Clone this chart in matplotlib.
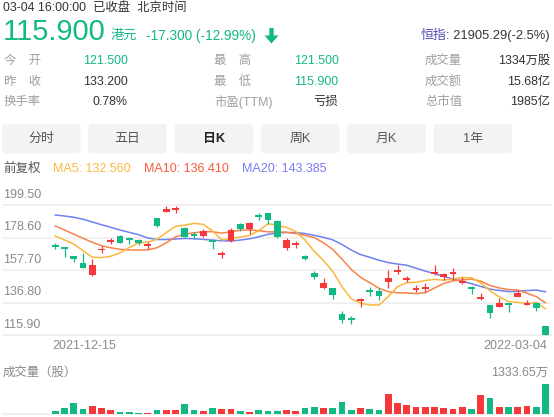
import matplotlib
matplotlib.use("Agg")
import matplotlib.pyplot as plt
from matplotlib.patches import FancyBboxPatch, Rectangle, Polygon
import numpy as np
import pandas as pd

plt.rcParams['font.family'] = ['Liberation Sans', 'Noto Sans CJK SC']

W, H = 554, 417
GREEN = '#13b887'
RED = '#f6383a'
DARK = '#333333'
GREY = '#9f9f9f'
C_MA5, C_MA10, C_MA20 = '#f9b83c', '#f8834a', '#6f82ee'
T_MA5, T_MA10, T_MA20 = '#fbb93c', '#fa5a3c', '#7b7bf5'

# ---- quote header ----
time_text = "03-04 16:00:00  已收盘  北京时间"
last_price = "115.900"
currency = "港元"
change_text = "-17.300 (-12.99%)"
index_name = "恒指"
index_text = ": 21905.29(-2.5%)"

quote_labels = [["今　开", "昨　收", "换手率"],
                ["最　高", "最　低", "市盈(TTM)"],
                ["成交量", "成交额", "总市值"]]
quote_values = [["121.500", "133.200", "0.78%"],
                ["121.500", "115.900", "亏损"],
                ["1334万股", "15.68亿", "1985亿"]]
quote_colors = [[GREEN, DARK, DARK],
                [GREEN, GREEN, DARK],
                [DARK, DARK, DARK]]

tabs = ["分时", "五日", "日K", "周K", "月K", "1年"]
active_tab = 2

ma_legend = ["MA5: 132.560", "MA10: 136.410", "MA20: 143.385"]

# ---- daily candles (HKD) ----
opens = [173.6, 172.3, 166.7, 162.4, 154.5, 170.6, 176.0, 179.6, 178.1, 177.0,
         173.3, 190.9, 195.2, 196.4, 184.5, 180.4, 179.8, 177.0, 167.5, 176.4,
         187.3, 183.9, 193.1, 194.2, 189.2, 171.7, 173.9, 166.7, 155.6, 145.9,
         145.9, 129.4, 126.8, 138.0, 144.7, 144.4, 149.8, 157.0, 151.6, 145.2,
         145.6, 155.1, 153.4, 155.3, 149.1, 146.8, 139.2, 135.0, 134.1, 136.0,
         140.5, 135.5, 136.3, 121.5]
highs = [174.9, 172.8, 167.0, 168.4, 164.6, 173.1, 178.5, 180.0, 178.7, 177.6,
         175.7, 191.3, 198.9, 198.9, 185.2, 181.9, 184.3, 177.4, 169.9, 184.5,
         187.7, 188.4, 194.2, 194.4, 189.9, 178.1, 176.4, 167.3, 157.1, 152.7,
         146.3, 131.3, 128.1, 139.9, 146.6, 146.3, 157.7, 160.7, 153.8, 148.1,
         149.1, 160.7, 155.6, 158.8, 153.4, 147.4, 143.1, 135.4, 139.5, 136.3,
         144.8, 138.4, 136.5, 121.5]
lows = [171.0, 166.3, 163.0, 158.8, 153.8, 168.8, 174.2, 174.9, 174.2, 173.8,
        171.4, 185.5, 194.8, 194.6, 178.7, 177.4, 178.7, 171.0, 165.6, 175.9,
        183.0, 180.7, 189.7, 187.3, 178.3, 170.6, 172.0, 164.1, 152.1, 145.5,
        138.9, 123.8, 122.8, 133.7, 141.0, 138.4, 145.9, 154.9, 149.8, 143.4,
        143.7, 154.5, 151.3, 151.3, 148.7, 142.1, 138.4, 126.6, 133.7, 130.9,
        140.1, 135.2, 131.3, 115.9]
closes = [172.5, 171.9, 165.0, 159.2, 160.9, 171.2, 176.6, 175.3, 177.0, 175.3,
          173.9, 186.0, 196.7, 197.0, 179.1, 179.6, 182.8, 175.7, 168.1, 183.4,
          184.3, 187.9, 191.8, 189.9, 178.7, 177.0, 174.5, 164.6, 153.4, 149.5,
          141.6, 125.5, 125.8, 139.2, 144.1, 141.2, 152.8, 157.5, 152.2, 145.8,
          146.2, 156.6, 155.1, 155.9, 150.6, 145.3, 139.8, 129.9, 136.3, 135.4,
          143.1, 136.1, 133.2, 115.9]
# volume, 10k shares
volumes = [122, 245, 485, 213, 349, 259, 168, 91, 91, 45,
           36, 168, 168, 168, 440, 168, 122, 259, 213, 213,
           122, 77, 168, 122, 122, 168, 122, 259, 304, 259,
           259, 531, 168, 259, 213, 168, 893, 485, 395, 304,
           304, 304, 259, 213, 304, 213, 848, 712, 304, 304,
           304, 349, 304, 1333.65]

# moving averages for the first days depend on earlier history
ma5_head = [179.6, 177.0, 174.4, 170.1]
ma10_head = [186.0, 183.4, 180.7, 178.1, 175.5, 173.3, 172.0, 171.0, 170.6]
ma20_head = [193.1, 192.4, 191.6, 190.3, 188.6, 186.8, 185.2, 183.4, 181.9, 180.4,
             178.3, 177.3, 177.3, 177.6, 178.0, 177.8, 177.4, 176.9, 176.5]

price_ticks = [199.50, 178.60, 157.70, 136.80, 115.90]
date_labels = ["2021-12-15", "2022-03-04"]
vol_max_label = "1333.65万"

s = pd.Series(closes)
ma5 = s.rolling(5).mean().to_numpy()
ma10 = s.rolling(10).mean().to_numpy()
ma20 = s.rolling(20).mean().to_numpy()
ma5[:len(ma5_head)] = ma5_head
ma10[:len(ma10_head)] = ma10_head
ma20[:len(ma20_head)] = ma20_head

n = len(closes)
x = np.arange(n)


def rect(x0, y0, x1, y1):
    return [x0 / W, 1 - y1 / H, (x1 - x0) / W, (y1 - y0) / H]


fig = plt.figure(figsize=(W / 100, H / 100), dpi=100)

# overlay in pixel units for the header
ov = fig.add_axes([0, 0, 1, 1])
ov.set_xlim(0, W)
ov.set_ylim(H, 0)
ov.axis('off')

ov.text(3.3, 7.5, time_text, fontsize=8.9, color=DARK, va='center')
ov.text(2.8, 32, last_price, fontsize=21, color=GREEN, va='center')
ov.text(111, 36, currency, fontsize=9.5, color=GREEN, va='center')
ov.text(146.5, 36, change_text, fontsize=9.8, color=GREEN, va='center')
ov.add_patch(Polygon([(269.3, 28), (273.7, 28), (273.7, 35.5), (278.5, 35.5),
                      (271.5, 43.5), (264.5, 35.5), (269.3, 35.5)],
                     closed=True, color=GREEN, lw=0))
t = ov.text(549.5, 36, index_text, fontsize=9.3, color=DARK, va='center', ha='right')
ov.annotate(index_name, xy=(0, 0.5), xycoords=t, ha='right', va='center',
            fontsize=9.3, color='#4f4fb0')

label_x = [3.5, 214.3, 425]
value_x = [127.7, 338.5, 550]
row_y = [61, 81.7, 102.3]
for c in range(3):
    for r in range(3):
        ov.text(label_x[c], row_y[r], quote_labels[c][r], fontsize=8.9,
                color=GREY, va='center')
        ov.text(value_x[c], row_y[r], quote_values[c][r], fontsize=8.9,
                color=quote_colors[c][r], va='center', ha='right')

for i, name in enumerate(tabs):
    bx = 2 + i * 86.3
    ov.add_patch(FancyBboxPatch((bx, 124), 78.5, 29.3,
                                boxstyle="round,pad=0,rounding_size=4",
                                fc='#f2f3f5', ec='none'))
    ov.text(bx + 39.2, 139, name, fontsize=9.3, ha='center', va='center',
            color='#222222' if i == active_tab else '#555555',
            fontweight='bold' if i == active_tab else 'normal')

ov.text(3.3, 169, "前复权", fontsize=9, color='#555555', va='center')
for txt, xx, col in zip(ma_legend, [53.3, 144, 241.7], [T_MA5, T_MA10, T_MA20]):
    ov.text(xx, 169, txt, fontsize=9, color=col, va='center')

# ---- price panel ----
xmin = -(55.3 - 3) / 9.25
xmax = xmin + 548 / 9.25
ax = fig.add_axes(rect(3, 205, 551, 335))
ax.set_xlim(xmin, xmax)
ax.set_ylim(min(price_ticks), max(price_ticks))
ax.axis('off')

for v in price_ticks:
    ax.axhline(v, color='#efefef', lw=1.2, zorder=0, clip_on=False)
    ax.annotate(f"{v:.2f}", xy=(0, v), xycoords=ax.get_yaxis_transform(),
                xytext=(0.2, 5.3), textcoords='offset points', va='baseline',
                ha='left', fontsize=9, color='#8a8a8a')

ax.plot(x, ma20, color=C_MA20, lw=1.1, zorder=2, clip_on=False)
ax.plot(x, ma10, color=C_MA10, lw=1.1, zorder=2, clip_on=False)
ax.plot(x, ma5, color=C_MA5, lw=1.1, zorder=2, clip_on=False)

cols = [RED if c >= o else GREEN for o, c in zip(opens, closes)]
bw = 0.74
for k in range(n):
    o, h, l, c = opens[k], highs[k], lows[k], closes[k]
    ax.vlines(k, l, h, color=cols[k], lw=0.9, zorder=3, clip_on=False)
    hgt = abs(c - o)
    mid = (o + c) / 2
    hgt = max(hgt, 1.2)
    ax.add_patch(Rectangle((k - bw / 2, mid - hgt / 2), bw, hgt, fc=cols[k],
                           ec='none', zorder=3, clip_on=False))

ax.annotate(date_labels[0], xy=(0, min(price_ticks)), xytext=(-2.0, -8),
            textcoords='offset points', ha='left', va='center',
            fontsize=9, color='#8a8a8a', annotation_clip=False)
ax.annotate(date_labels[1], xy=(n - 1, min(price_ticks)), xytext=(1, -8),
            textcoords='offset points', ha='right', va='center',
            fontsize=9, color='#8a8a8a', annotation_clip=False)

# ---- volume panel ----
ov.text(3, 372.5, "成交量（股）", fontsize=8.9, color='#888888', va='center')
ov.text(548.5, 372.5, vol_max_label, fontsize=8.9, color='#888888', va='center', ha='right')

vx = fig.add_axes(rect(3, 384.3, 551, 413.7))
vx.set_xlim(xmin, xmax)
vx.set_ylim(0, max(volumes))
vx.axis('off')
vx.axhline(0, color='#eeeeee', lw=1.2, zorder=0, clip_on=False)
vx.bar(x, volumes, width=bw, color=cols, zorder=2)

fig.savefig("out.png", dpi=100)
